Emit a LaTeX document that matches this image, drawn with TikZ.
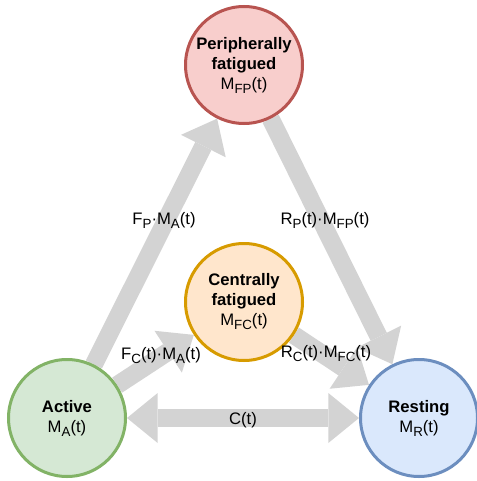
\documentclass[tikz,border=0pt]{standalone}
\usepackage{fontspec}
\setmainfont{Liberation Sans}
\usetikzlibrary{arrows.meta, backgrounds}
\definecolor{perfill}{HTML}{F8CECC}
\definecolor{perline}{HTML}{B85450}
\definecolor{cenfill}{HTML}{FFE6CC}
\definecolor{cenline}{HTML}{D79B00}
\definecolor{actfill}{HTML}{D5E8D4}
\definecolor{actline}{HTML}{82B366}
\definecolor{resfill}{HTML}{DAE8FC}
\definecolor{resline}{HTML}{6C8EBF}
\definecolor{flowgray}{HTML}{D3D3D3}
\newcommand{\lowsub}[1]{\raisebox{-0.45ex}{\fontsize{10}{10}\selectfont #1}}

\begin{document}
\begin{tikzpicture}[
      x=0.75pt, y=-0.75pt,
      font=\fontsize{12.5}{15}\selectfont,
      state/.style={
        circle,
        minimum size=87.75pt,
        line width=2.25pt,
        align=center,
        inner sep=0pt,
      },
      flow/.style={
        draw=flowgray,
        line width=13.5pt,
        -{Triangle[width=37.5pt,length=23pt,line width=0pt]},
      },
      flowboth/.style={
        flow,
        {Triangle[width=37.5pt,length=23pt,line width=0pt]}-{Triangle[width=37.5pt,length=23pt,line width=0pt]},
      },
      ]
      \useasboundingbox (0,0) rectangle (477,481);
      \node[state,draw=perline,fill=perfill] (per) at (244,65) {\textbf{Peripherally}\\\textbf{fatigued}\\M\lowsub{FP}(t)};
      \node[state,draw=cenline,fill=cenfill] (cen) at (244,302) {\textbf{Centrally}\\\textbf{fatigued}\\M\lowsub{FC}(t)};
      \node[state,draw=actline,fill=actfill] (act) at (67,418) {\textbf{Active}\\M\lowsub{A}(t)};
      \node[state,draw=resline,fill=resfill] (res) at (419,418) {\textbf{Resting}\\M\lowsub{R}(t)};
      \begin{scope}[on background layer]
        \draw[flow] (act) -- (per);
        \draw[flow] (per) -- (res);
        \draw[flow] (act) -- (cen);
        \draw[flow] (cen) -- (res);
        \draw[flowboth] (act) -- (res);
      \end{scope}
      \node (lfp) at (164,220) {F\lowsub{P}·M\lowsub{A}(t)};
      \node (lrp) at (325,220) {R\lowsub{P}(t)·M\lowsub{FP}(t)};
      \node (lfc) at (161,356) {F\lowsub{C}(t)·M\lowsub{A}(t)};
      \node (lrc) at (326,354) {R\lowsub{C}(t)·M\lowsub{FC}(t)};
      \node (lc) at (243,420) {C(t)};
    \end{tikzpicture}
\end{document}
